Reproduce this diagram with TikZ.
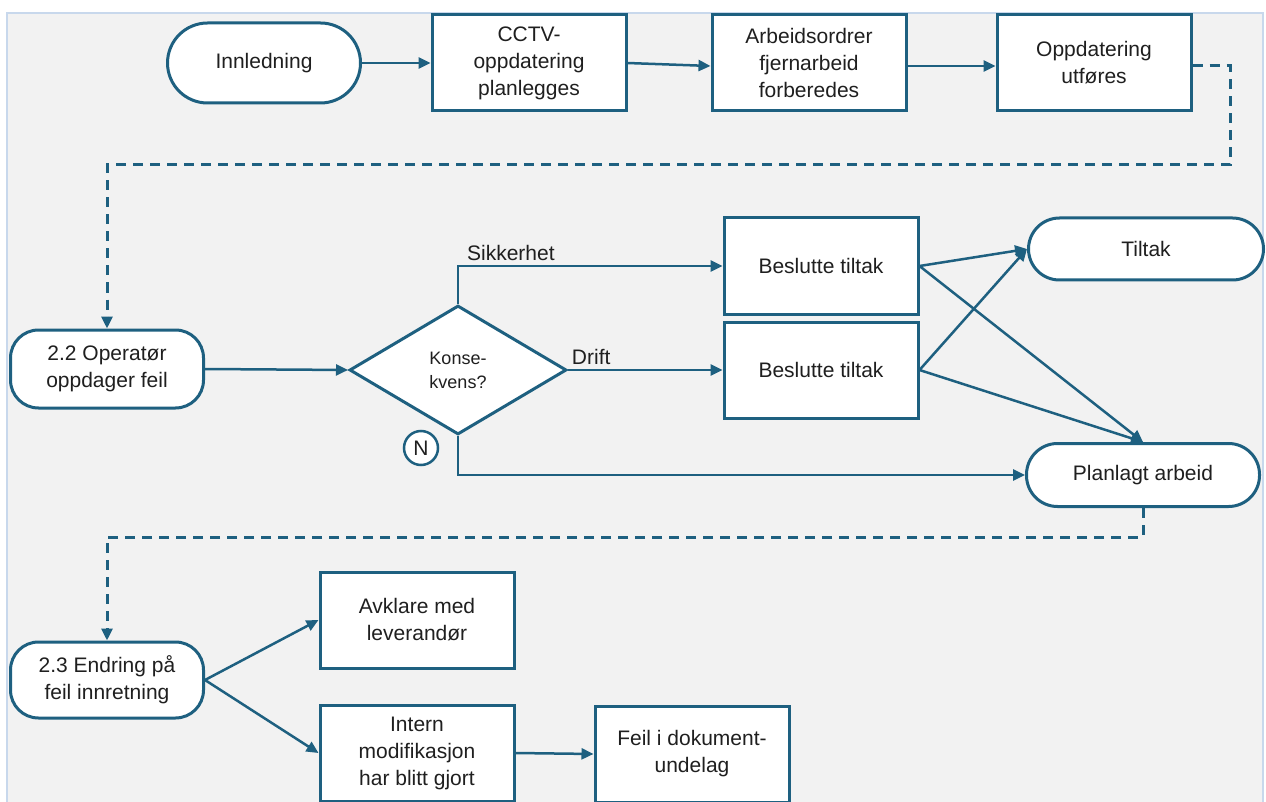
\documentclass[tikz,border=0pt]{standalone}
\usepackage{fontspec}
\setmainfont{Liberation Sans}
\usepackage{xcolor}
\usetikzlibrary{arrows.meta,positioning,shapes.geometric}

\definecolor{flowblue}{RGB}{30,96,128}
\definecolor{panelgray}{RGB}{242,242,242}
\definecolor{paneledge}{RGB}{200,216,236}

\begin{document}
\begin{tikzpicture}[
    x=1pt, y=-1pt,
    >={Triangle[length=12pt,width=11pt]},
    every node/.style={font=\fontsize{21}{27}\selectfont, text=black!88},
    proc/.style={draw=flowblue, line width=3pt, fill=white,
        minimum width=194pt, minimum height=96pt, align=center, inner sep=2pt},
    term/.style={draw=flowblue, line width=3pt, fill=white,
        rounded corners=#1, align=center, inner sep=2pt},
    term/.default=30pt,
    flow/.style={->, draw=flowblue, line width=2.5pt},
    link/.style={->, draw=flowblue, line width=3pt, dash pattern=on 10pt off 7pt}
]

\useasboundingbox (0,0) rectangle (1266,802);
\clip (0,0) rectangle (1266,802);

% panel
\fill[white] (0,0) rectangle (1266,802);
\draw[paneledge, fill=panelgray, line width=1.5pt] (7,13) rectangle (1263,815);

% top row
\node[term=40pt, minimum width=193pt, minimum height=80pt] (intro) at (264,63) {Innledning};
\node[proc] (plan) at (529,63) {CCTV-\\oppdatering\\planlegges};
\node[proc] (orders) at (809,63) {Arbeidsordrer\\fjernarbeid\\forberedes};
\node[proc] (exec) at (1094,63) {Oppdatering\\utføres};

% operator finds fault
\node[term=28pt, minimum width=193pt, minimum height=78pt] (detect) at (107,369)
{2.2 Operatør\\oppdager feil};

\node[diamond, draw=flowblue, line width=3pt, fill=white, minimum width=217pt,
minimum height=129pt, inner sep=0pt, align=center,
font=\fontsize{18}{24}\selectfont] (conseq) at (458,370) {Konse-\\kvens?};

\node[circle, draw=flowblue, line width=2.5pt, fill=white, minimum size=34pt,
inner sep=0pt] (no) at (421,448) {N};

\node[proc] (act1) at (821,266) {Beslutte tiltak};
\node[proc] (act2) at (821,370) {Beslutte tiltak};

\node[term=31pt, minimum width=235pt, minimum height=62pt] (measure) at (1146,249) {Tiltak};
\node[term=31pt, minimum width=233pt, minimum height=63pt] (planned) at (1143,475)
{Planlagt arbeid};

% wrong device
\node[term=28pt, minimum width=193pt, minimum height=76pt] (change) at (107,680)
{2.3 Endring på\\feil innretning};
\node[proc] (vendor) at (417,620) {Avklare med\\leverandør};
\node[proc] (intmod) at (417,753) {Intern\\modifikasjon\\har blitt gjort};
\node[proc] (docerr) at (692,754) {Feil i dokument-\\undelag};

% arrows
\draw[flow] (intro) -- (plan);
\draw[flow] (plan.east) -- ([yshift=-3pt]orders.west);
\draw[flow] ([yshift=-3pt]orders.east) -- ([yshift=-3pt]exec.west);
\draw[link] ([yshift=-3pt]exec.east) -| (1230,165) -| (detect.north);

\draw[flow] (detect.east) -- (conseq.west);
\draw[flow] (conseq.north) |- (act1.west) node[pos=0.6, above=1pt] {Sikkerhet};
\draw[flow] (conseq.east) -- (act2.west) node[pos=0.15, above=1pt] {Drift};
\draw[flow] (conseq.south) |- (planned.west);

\draw[flow] (act1.east) -- (measure.west);
\draw[flow] (act1.east) -- (planned.north);
\draw[flow] (act2.east) -- (measure.west);
\draw[flow] (act2.east) -- (planned.north);

\draw[link] (planned.south) -- ++(0,29) -| (change.north);

\draw[flow] (change.east) -- (vendor.west);
\draw[flow] (change.east) -- (intmod.west);
\draw[flow] (intmod.east) -- (docerr.west);

\end{tikzpicture}
\end{document}
